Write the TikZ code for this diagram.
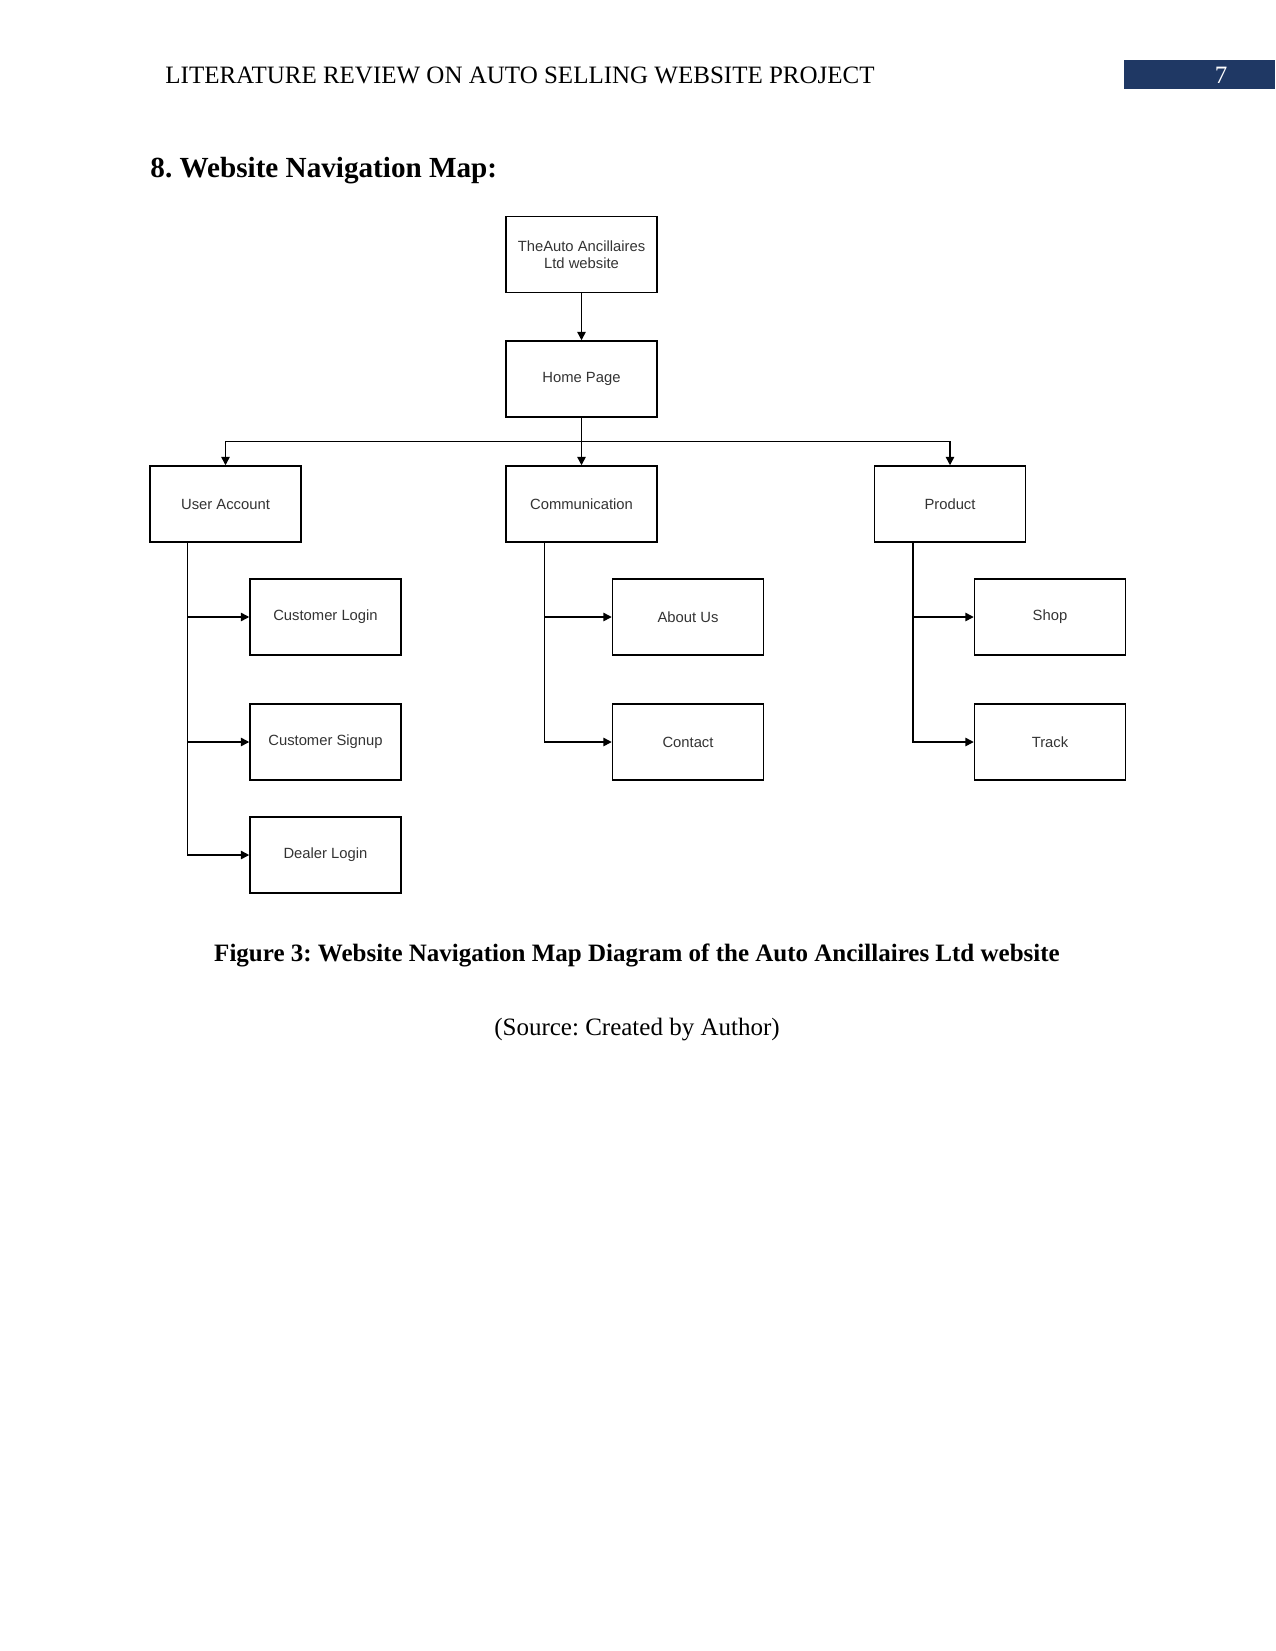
\documentclass[tikz,border=0pt]{standalone}
\usepackage{fontspec}
\setmainfont{Liberation Serif}
\newfontfamily\boxfont{Liberation Sans}
\usepackage{xcolor}
\usetikzlibrary{arrows.meta,calc}
\definecolor{headblue}{HTML}{1F3864}
\definecolor{boxtext}{HTML}{333333}
\frenchspacing

\tikzset{
  navbox/.style={draw,line width=0.7pt,minimum width=72.5pt,minimum height=36.5pt,
    inner sep=1pt,align=center,text=boxtext,font=\boxfont\fontsize{7.1}{8.4}\selectfont},
  navarr/.style={line width=0.7pt,-{Triangle[length=4pt,width=4pt]}}
}

\begin{document}
\begin{tikzpicture}[x=0.48pt,y=-0.48pt]
  \useasboundingbox (0,0) rectangle (1275,1651);
  % running head
  \node[anchor=west,font=\fontsize{12}{14}\selectfont,inner sep=0] (head) at (165,75) {LITERATURE REVIEW ON AUTO SELLING WEBSITE PROJECT};
  \fill[headblue] (1124,60) rectangle (1275,89);
  \node[text=white,font=\fontsize{12}{14}\selectfont] (pagenum) at (1221,75) {7};
  \node[anchor=west,font=\bfseries\fontsize{14}{17}\selectfont,inner sep=0] (title) at (150,171) {8. Website Navigation Map:};

  % tree
  \node[navbox] (site) at (581.5,254.5) {TheAuto Ancillaires\\Ltd website};
  \node[navbox] (home) at (581.5,379) {Home Page};
  \node[navbox] (user) at (225.5,504) {User Account};
  \node[navbox] (comm) at (581.5,504) {Communication};
  \node[navbox] (prod) at (950,504) {Product};

  \node[navbox] (clogin) at (325.5,617) {Customer Login};
  \node[navbox] (csign) at (325.5,742) {Customer Signup};
  \node[navbox] (dlogin) at (325.5,855) {Dealer Login};
  \node[navbox] (about) at (688,617) {About Us};
  \node[navbox] (contact) at (688,742) {Contact};
  \node[navbox] (shop) at (1050,617) {Shop};
  \node[navbox] (track) at (1050,742) {Track};

  \draw[navarr] (site) -- (home);
  \draw[navarr] (home) -- (comm);
  \draw[navarr] (home.south) -- ++(0,24) -| (user.north);
  \draw[navarr] (home.south) -- ++(0,24) -| (prod.north);

  \draw[navarr] ([xshift=-38*0.48pt]user.south) |- (clogin.west);
  \draw[navarr] ([xshift=-38*0.48pt]user.south) |- (csign.west);
  \draw[navarr] ([xshift=-38*0.48pt]user.south) |- (dlogin.west);
  \draw[navarr] ([xshift=-37*0.48pt]comm.south) |- (about.west);
  \draw[navarr] ([xshift=-37*0.48pt]comm.south) |- (contact.west);
  \draw[navarr] ([xshift=-37*0.48pt]prod.south) |- (shop.west);
  \draw[navarr] ([xshift=-37*0.48pt]prod.south) |- (track.west);

  % caption
  \node[font=\bfseries\fontsize{12}{14}\selectfont] (caption) at (637,955) {Figure 3: Website Navigation Map Diagram of the Auto Ancillaires Ltd website};
  \node[font=\fontsize{12}{14}\selectfont] (source) at (637,1030) {(Source: Created by Author)};
\end{tikzpicture}
\end{document}
